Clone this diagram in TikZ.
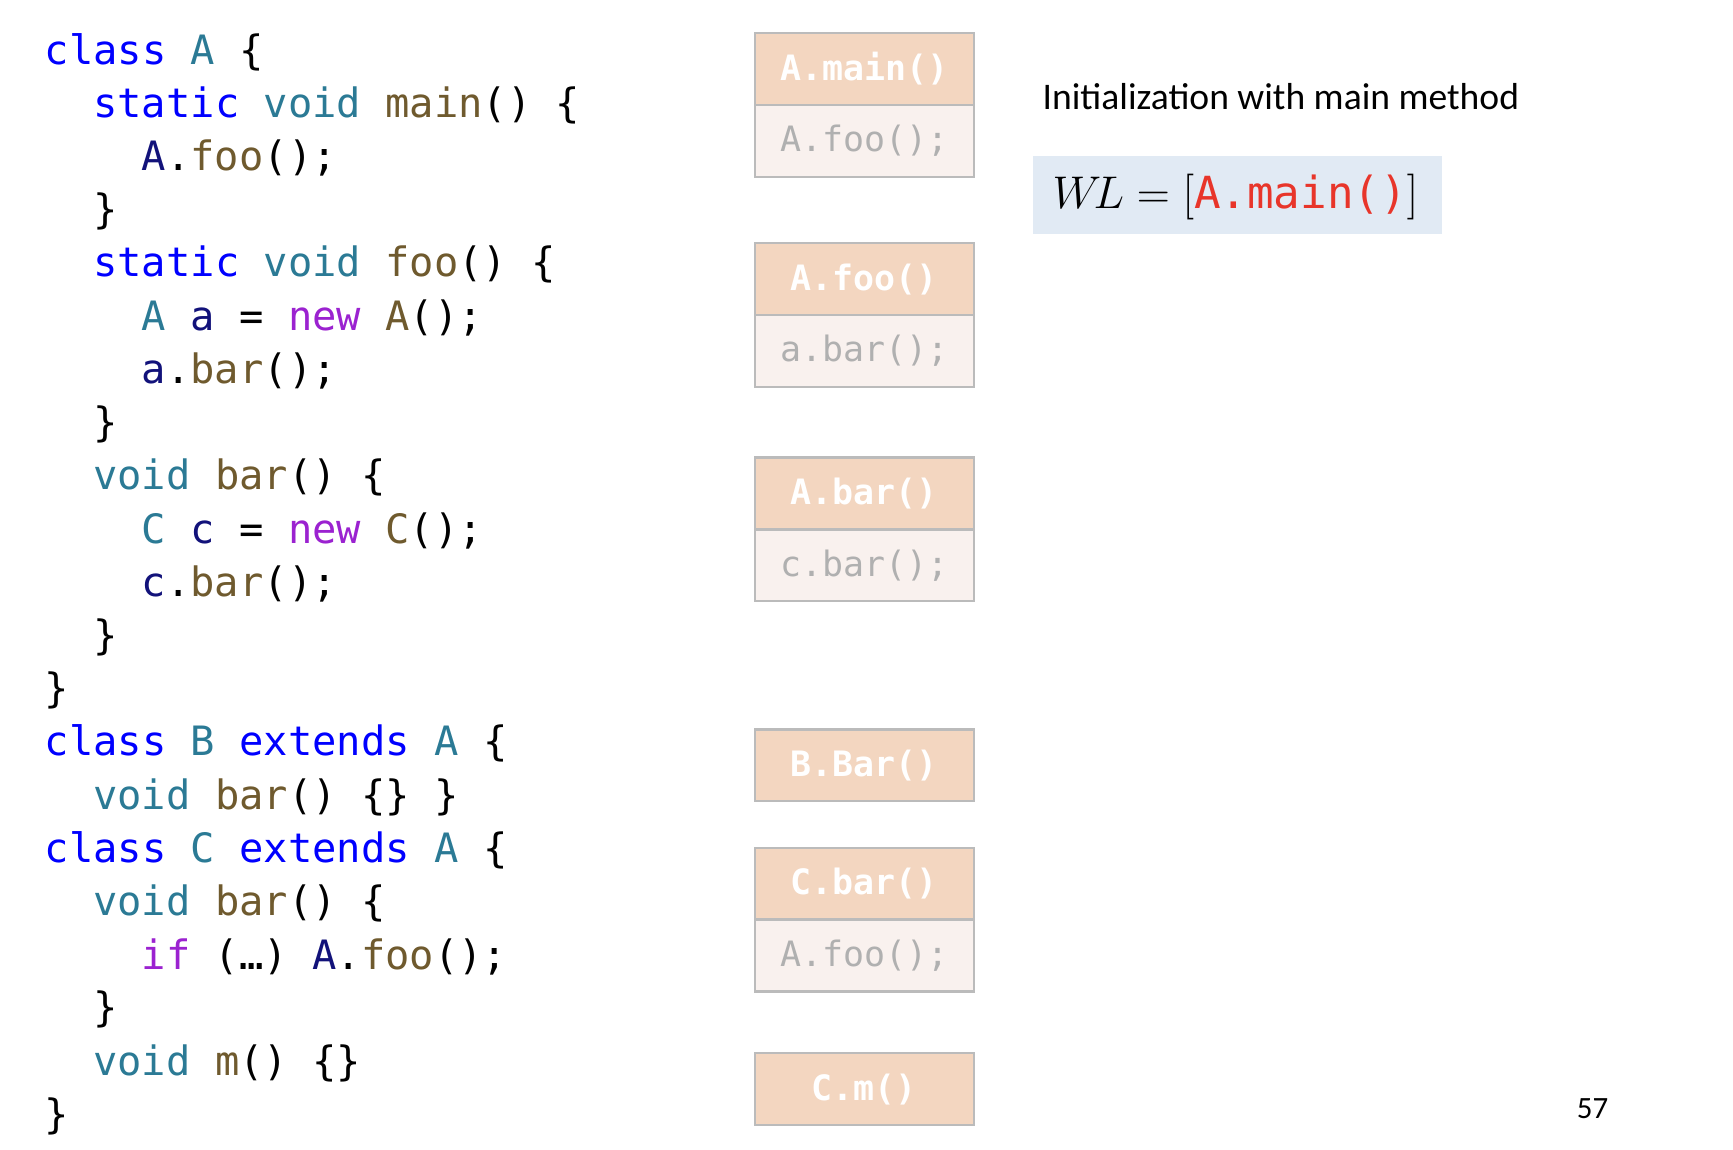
\documentclass[tikz,border=0pt]{standalone}
\usepackage{fontspec}
\setmainfont{Carlito}
\newfontfamily\code{DejaVu Sans Mono}
\definecolor{kw}{HTML}{0000FF}
\definecolor{ty}{HTML}{2B7A95}
\definecolor{mt}{HTML}{6F5A2E}
\definecolor{nw}{HTML}{9B22D0}
\definecolor{vr}{HTML}{12127A}
\definecolor{hd}{HTML}{F3D6C0}
\definecolor{bd}{HTML}{F9F1EE}
\definecolor{bo}{HTML}{BBBBBB}
\definecolor{gt}{HTML}{B0B0B0}
\definecolor{wl}{HTML}{E1EAF4}
\definecolor{rd}{HTML}{E8352A}
\newcommand\K[1]{\textcolor{kw}{#1}}
\newcommand\T[1]{\textcolor{ty}{#1}}
\newcommand\M[1]{\textcolor{mt}{#1}}
\newcommand\N[1]{\textcolor{nw}{#1}}
\newcommand\V[1]{\textcolor{vr}{#1}}
\begin{document}
\begin{tikzpicture}[x=0.5pt,y=-0.5pt,
  cl/.style={anchor=west,inner sep=0pt,font=\code\fontsize{18.3pt}{20pt}\selectfont},
  hdr/.style={draw=bo,line width=1pt,fill=hd,minimum width=99pt,minimum height=32.5pt,inner sep=0pt,text=white,font=\code\bfseries\fontsize{15.8pt}{18pt}\selectfont},
  bdy/.style={draw=bo,line width=1pt,fill=bd,minimum width=99pt,minimum height=32.5pt,inner sep=0pt,text=gt,font=\code\fontsize{15.8pt}{18pt}\selectfont}]
\useasboundingbox (0,0) rectangle (1568,1040);
\def\ly#1{47+48.15*(#1-1)}
\node[cl] (l1) at (40,{\ly{1}}) {\K{class} \T{A} \{};
\node[cl] (l2) at (84,{\ly{2}}) {\K{static} \T{void} \M{main}() \{};
\node[cl] (l3) at (128,{\ly{3}}) {\V{A}.\M{foo}();};
\node[cl] (l4) at (84,{\ly{4}}) {\}};
\node[cl] (l5) at (84,{\ly{5}}) {\K{static} \T{void} \M{foo}() \{};
\node[cl] (l6) at (128,{\ly{6}}) {\T{A} \V{a} = \N{new} \M{A}();};
\node[cl] (l7) at (128,{\ly{7}}) {\V{a}.\M{bar}();};
\node[cl] (l8) at (84,{\ly{8}}) {\}};
\node[cl] (l9) at (84,{\ly{9}}) {\T{void} \M{bar}() \{};
\node[cl] (l10) at (128,{\ly{10}}) {\T{C} \V{c} = \N{new} \M{C}();};
\node[cl] (l11) at (128,{\ly{11}}) {\V{c}.\M{bar}();};
\node[cl] (l12) at (84,{\ly{12}}) {\}};
\node[cl] (l13) at (40,{\ly{13}}) {\}};
\node[cl] (l14) at (40,{\ly{14}}) {\K{class} \T{B} \K{extends} \T{A} \{};
\node[cl] (l15) at (84,{\ly{15}}) {\T{void} \M{bar}() \{\} \}};
\node[cl] (l16) at (40,{\ly{16}}) {\K{class} \T{C} \K{extends} \T{A} \{};
\node[cl] (l17) at (84,{\ly{17}}) {\T{void} \M{bar}() \{};
\node[cl] (l18) at (128,{\ly{18}}) {\N{if} (…) \V{A}.\M{foo}();};
\node[cl] (l19) at (84,{\ly{19}}) {\}};
\node[cl] (l20) at (84,{\ly{20}}) {\T{void} \M{m}() \{\}};
\node[cl] (l21) at (40,{\ly{21}}) {\}};
% boxes
\node[hdr] (h1) at (782,62.5) {A.main()};
\node[bdy] (b1) at (782,127.5) {A.foo();};
\node[hdr] (h2) at (782,252.5) {A.foo()};
\node[bdy] (b2) at (782,317.5) {a.bar();};
\node[hdr] (h3) at (782,446.5) {A.bar()};
\node[bdy] (b3) at (782,511.5) {c.bar();};
\node[hdr] (h4) at (782,692.5) {B.Bar()};
\node[hdr] (h5) at (782,799.5) {C.bar()};
\node[bdy] (b5) at (782,864.5) {A.foo();};
\node[hdr] (h6) at (782,985.5) {C.m()};
% right side
\node[anchor=west,inner sep=0pt,font=\fontsize{17pt}{20pt}\selectfont] (title) at (943,87) {Initialization with main method};
\node[fill=wl,minimum width=185pt,minimum height=35pt,inner sep=0pt] (wlbox) at (1120,176.5) {};
\node[anchor=west,inner sep=0pt,font=\fontsize{20pt}{24pt}\selectfont] (wl) at (952,178) {$W\!L=[$\textcolor{rd}{\code A.main()}$]$};
\node[anchor=center,inner sep=0pt,font=\fontsize{14pt}{16pt}\selectfont] (pg) at (1441,1003) {57};
\end{tikzpicture}
\end{document}
